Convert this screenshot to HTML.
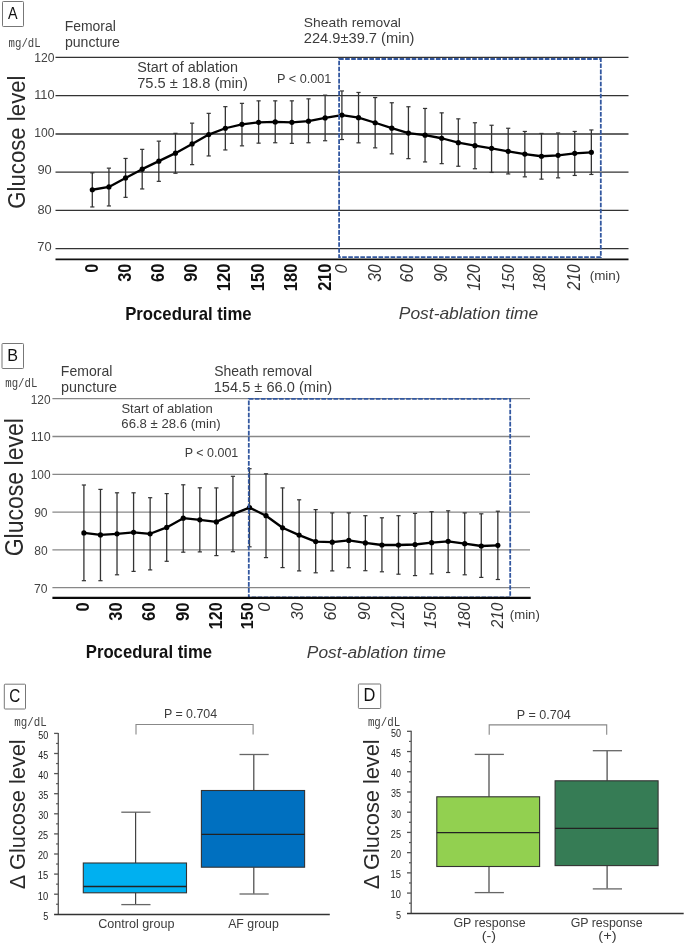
<!DOCTYPE html>
<html><head><meta charset="utf-8"><style>
html,body{margin:0;padding:0;background:#fff;}
svg{display:block;font-family:"Liberation Sans",sans-serif;will-change:transform;}
</style></head><body>
<svg width="685" height="945" viewBox="0 0 685 945">
<rect width="685" height="945" fill="#fff"/>
<rect x="2.5" y="1.5" width="21" height="25" fill="none" stroke="#777" stroke-width="1" rx="0.8"/>
<text x="7.96" y="18.8" font-size="17.16" font-weight="normal" font-style="normal" fill="#111" textLength="9.56" lengthAdjust="spacingAndGlyphs">A</text>
<text x="8.59" y="47" font-size="12.3" font-family="Liberation Mono" font-weight="normal" font-style="normal" fill="#444" textLength="32.08" lengthAdjust="spacingAndGlyphs">mg/dL</text>
<text x="64.65" y="30.9" font-size="14.3" font-weight="normal" font-style="normal" fill="#3c3c3c" textLength="51.19" lengthAdjust="spacingAndGlyphs">Femoral</text>
<text x="64.88" y="46.6" font-size="14.3" font-weight="normal" font-style="normal" fill="#3c3c3c" textLength="54.94" lengthAdjust="spacingAndGlyphs">puncture</text>
<text x="303.88" y="26.5" font-size="13.6" font-weight="normal" font-style="normal" fill="#3c3c3c" textLength="97.05" lengthAdjust="spacingAndGlyphs">Sheath removal</text>
<text x="303.77" y="42.8" font-size="13.8" font-weight="normal" font-style="normal" fill="#3c3c3c" textLength="110.72" lengthAdjust="spacingAndGlyphs">224.9±39.7 (min)</text>
<text x="137.25" y="71.6" font-size="14" font-weight="normal" font-style="normal" fill="#3c3c3c" textLength="100.88" lengthAdjust="spacingAndGlyphs">Start of ablation</text>
<text x="137.17" y="87.9" font-size="14.2" font-weight="normal" font-style="normal" fill="#3c3c3c" textLength="110.71" lengthAdjust="spacingAndGlyphs">75.5 ± 18.8 (min)</text>
<text x="276.95" y="82.6" font-size="12.33" font-weight="normal" font-style="normal" fill="#3c3c3c" textLength="54.46" lengthAdjust="spacingAndGlyphs">P &lt; 0.001</text>
<line x1="55.5" y1="57.4" x2="628.5" y2="57.4" stroke="#333" stroke-width="1.3"/>
<line x1="55.5" y1="95.7" x2="628.5" y2="95.7" stroke="#333" stroke-width="1.3"/>
<line x1="55.5" y1="134" x2="628.5" y2="134" stroke="#333" stroke-width="1.3"/>
<line x1="55.5" y1="172.2" x2="628.5" y2="172.2" stroke="#333" stroke-width="1.3"/>
<line x1="55.5" y1="210.4" x2="628.5" y2="210.4" stroke="#333" stroke-width="1.3"/>
<line x1="55.5" y1="248.6" x2="628.5" y2="248.6" stroke="#333" stroke-width="1.3"/>
<text x="34.24" y="61.8" font-size="13.2" font-weight="normal" font-style="normal" fill="#444" textLength="20.28" lengthAdjust="spacingAndGlyphs">120</text>
<text x="34.19" y="99" font-size="13.2" font-weight="normal" font-style="normal" fill="#444" textLength="20.36" lengthAdjust="spacingAndGlyphs">110</text>
<text x="34.24" y="137" font-size="13.2" font-weight="normal" font-style="normal" fill="#444" textLength="20.28" lengthAdjust="spacingAndGlyphs">100</text>
<text x="37.39" y="174.1" font-size="13.2" font-weight="normal" font-style="normal" fill="#444" textLength="14.32" lengthAdjust="spacingAndGlyphs">90</text>
<text x="37.46" y="213.9" font-size="13.2" font-weight="normal" font-style="normal" fill="#444" textLength="14.26" lengthAdjust="spacingAndGlyphs">80</text>
<text x="37.35" y="250.7" font-size="13.2" font-weight="normal" font-style="normal" fill="#444" textLength="14.36" lengthAdjust="spacingAndGlyphs">70</text>
<line x1="92.3" y1="172.85" x2="92.3" y2="206.95" stroke="#333" stroke-width="1.3"/>
<line x1="90.2" y1="172.85" x2="94.4" y2="172.85" stroke="#333" stroke-width="1.2"/>
<line x1="90.2" y1="206.95" x2="94.4" y2="206.95" stroke="#333" stroke-width="1.2"/>
<line x1="108.93" y1="168.15" x2="108.93" y2="205.95" stroke="#333" stroke-width="1.3"/>
<line x1="106.83" y1="168.15" x2="111.03" y2="168.15" stroke="#333" stroke-width="1.2"/>
<line x1="106.83" y1="205.95" x2="111.03" y2="205.95" stroke="#333" stroke-width="1.2"/>
<line x1="125.56" y1="158.45" x2="125.56" y2="197.35" stroke="#333" stroke-width="1.3"/>
<line x1="123.46" y1="158.45" x2="127.66" y2="158.45" stroke="#333" stroke-width="1.2"/>
<line x1="123.46" y1="197.35" x2="127.66" y2="197.35" stroke="#333" stroke-width="1.2"/>
<line x1="142.19" y1="149.35" x2="142.19" y2="188.95" stroke="#333" stroke-width="1.3"/>
<line x1="140.09" y1="149.35" x2="144.29" y2="149.35" stroke="#333" stroke-width="1.2"/>
<line x1="140.09" y1="188.95" x2="144.29" y2="188.95" stroke="#333" stroke-width="1.2"/>
<line x1="158.82" y1="141.15" x2="158.82" y2="181.35" stroke="#333" stroke-width="1.3"/>
<line x1="156.72" y1="141.15" x2="160.92" y2="141.15" stroke="#333" stroke-width="1.2"/>
<line x1="156.72" y1="181.35" x2="160.92" y2="181.35" stroke="#333" stroke-width="1.2"/>
<line x1="175.45" y1="133.35" x2="175.45" y2="173.25" stroke="#333" stroke-width="1.3"/>
<line x1="173.35" y1="133.35" x2="177.55" y2="133.35" stroke="#333" stroke-width="1.2"/>
<line x1="173.35" y1="173.25" x2="177.55" y2="173.25" stroke="#333" stroke-width="1.2"/>
<line x1="192.08" y1="123.15" x2="192.08" y2="164.65" stroke="#333" stroke-width="1.3"/>
<line x1="189.98" y1="123.15" x2="194.18" y2="123.15" stroke="#333" stroke-width="1.2"/>
<line x1="189.98" y1="164.65" x2="194.18" y2="164.65" stroke="#333" stroke-width="1.2"/>
<line x1="208.71" y1="113.35" x2="208.71" y2="155.95" stroke="#333" stroke-width="1.3"/>
<line x1="206.61" y1="113.35" x2="210.81" y2="113.35" stroke="#333" stroke-width="1.2"/>
<line x1="206.61" y1="155.95" x2="210.81" y2="155.95" stroke="#333" stroke-width="1.2"/>
<line x1="225.34" y1="106.65" x2="225.34" y2="149.95" stroke="#333" stroke-width="1.3"/>
<line x1="223.24" y1="106.65" x2="227.44" y2="106.65" stroke="#333" stroke-width="1.2"/>
<line x1="223.24" y1="149.95" x2="227.44" y2="149.95" stroke="#333" stroke-width="1.2"/>
<line x1="241.97" y1="103.35" x2="241.97" y2="145.85" stroke="#333" stroke-width="1.3"/>
<line x1="239.87" y1="103.35" x2="244.07" y2="103.35" stroke="#333" stroke-width="1.2"/>
<line x1="239.87" y1="145.85" x2="244.07" y2="145.85" stroke="#333" stroke-width="1.2"/>
<line x1="258.6" y1="100.85" x2="258.6" y2="143.15" stroke="#333" stroke-width="1.3"/>
<line x1="256.5" y1="100.85" x2="260.7" y2="100.85" stroke="#333" stroke-width="1.2"/>
<line x1="256.5" y1="143.15" x2="260.7" y2="143.15" stroke="#333" stroke-width="1.2"/>
<line x1="275.23" y1="100.85" x2="275.23" y2="142.75" stroke="#333" stroke-width="1.3"/>
<line x1="273.13" y1="100.85" x2="277.33" y2="100.85" stroke="#333" stroke-width="1.2"/>
<line x1="273.13" y1="142.75" x2="277.33" y2="142.75" stroke="#333" stroke-width="1.2"/>
<line x1="291.86" y1="100.85" x2="291.86" y2="143.35" stroke="#333" stroke-width="1.3"/>
<line x1="289.76" y1="100.85" x2="293.96" y2="100.85" stroke="#333" stroke-width="1.2"/>
<line x1="289.76" y1="143.35" x2="293.96" y2="143.35" stroke="#333" stroke-width="1.2"/>
<line x1="308.49" y1="98.85" x2="308.49" y2="142.75" stroke="#333" stroke-width="1.3"/>
<line x1="306.39" y1="98.85" x2="310.59" y2="98.85" stroke="#333" stroke-width="1.2"/>
<line x1="306.39" y1="142.75" x2="310.59" y2="142.75" stroke="#333" stroke-width="1.2"/>
<line x1="325.12" y1="95.15" x2="325.12" y2="140.75" stroke="#333" stroke-width="1.3"/>
<line x1="323.02" y1="95.15" x2="327.22" y2="95.15" stroke="#333" stroke-width="1.2"/>
<line x1="323.02" y1="140.75" x2="327.22" y2="140.75" stroke="#333" stroke-width="1.2"/>
<line x1="341.9" y1="90.95" x2="341.9" y2="139.55" stroke="#333" stroke-width="1.3"/>
<line x1="339.8" y1="90.95" x2="344" y2="90.95" stroke="#333" stroke-width="1.2"/>
<line x1="339.8" y1="139.55" x2="344" y2="139.55" stroke="#333" stroke-width="1.2"/>
<line x1="358.53" y1="92.45" x2="358.53" y2="142.85" stroke="#333" stroke-width="1.3"/>
<line x1="356.43" y1="92.45" x2="360.63" y2="92.45" stroke="#333" stroke-width="1.2"/>
<line x1="356.43" y1="142.85" x2="360.63" y2="142.85" stroke="#333" stroke-width="1.2"/>
<line x1="375.16" y1="97.55" x2="375.16" y2="147.85" stroke="#333" stroke-width="1.3"/>
<line x1="373.06" y1="97.55" x2="377.26" y2="97.55" stroke="#333" stroke-width="1.2"/>
<line x1="373.06" y1="147.85" x2="377.26" y2="147.85" stroke="#333" stroke-width="1.2"/>
<line x1="391.79" y1="102.75" x2="391.79" y2="153.85" stroke="#333" stroke-width="1.3"/>
<line x1="389.69" y1="102.75" x2="393.89" y2="102.75" stroke="#333" stroke-width="1.2"/>
<line x1="389.69" y1="153.85" x2="393.89" y2="153.85" stroke="#333" stroke-width="1.2"/>
<line x1="408.42" y1="106.75" x2="408.42" y2="158.65" stroke="#333" stroke-width="1.3"/>
<line x1="406.32" y1="106.75" x2="410.52" y2="106.75" stroke="#333" stroke-width="1.2"/>
<line x1="406.32" y1="158.65" x2="410.52" y2="158.65" stroke="#333" stroke-width="1.2"/>
<line x1="425.05" y1="108.45" x2="425.05" y2="161.95" stroke="#333" stroke-width="1.3"/>
<line x1="422.95" y1="108.45" x2="427.15" y2="108.45" stroke="#333" stroke-width="1.2"/>
<line x1="422.95" y1="161.95" x2="427.15" y2="161.95" stroke="#333" stroke-width="1.2"/>
<line x1="441.68" y1="112.85" x2="441.68" y2="163.65" stroke="#333" stroke-width="1.3"/>
<line x1="439.58" y1="112.85" x2="443.78" y2="112.85" stroke="#333" stroke-width="1.2"/>
<line x1="439.58" y1="163.65" x2="443.78" y2="163.65" stroke="#333" stroke-width="1.2"/>
<line x1="458.31" y1="118.85" x2="458.31" y2="166.25" stroke="#333" stroke-width="1.3"/>
<line x1="456.21" y1="118.85" x2="460.41" y2="118.85" stroke="#333" stroke-width="1.2"/>
<line x1="456.21" y1="166.25" x2="460.41" y2="166.25" stroke="#333" stroke-width="1.2"/>
<line x1="474.94" y1="122.75" x2="474.94" y2="168.75" stroke="#333" stroke-width="1.3"/>
<line x1="472.84" y1="122.75" x2="477.04" y2="122.75" stroke="#333" stroke-width="1.2"/>
<line x1="472.84" y1="168.75" x2="477.04" y2="168.75" stroke="#333" stroke-width="1.2"/>
<line x1="491.57" y1="125.25" x2="491.57" y2="172.45" stroke="#333" stroke-width="1.3"/>
<line x1="489.47" y1="125.25" x2="493.67" y2="125.25" stroke="#333" stroke-width="1.2"/>
<line x1="489.47" y1="172.45" x2="493.67" y2="172.45" stroke="#333" stroke-width="1.2"/>
<line x1="508.2" y1="128.25" x2="508.2" y2="173.95" stroke="#333" stroke-width="1.3"/>
<line x1="506.1" y1="128.25" x2="510.3" y2="128.25" stroke="#333" stroke-width="1.2"/>
<line x1="506.1" y1="173.95" x2="510.3" y2="173.95" stroke="#333" stroke-width="1.2"/>
<line x1="524.83" y1="131.45" x2="524.83" y2="176.85" stroke="#333" stroke-width="1.3"/>
<line x1="522.73" y1="131.45" x2="526.93" y2="131.45" stroke="#333" stroke-width="1.2"/>
<line x1="522.73" y1="176.85" x2="526.93" y2="176.85" stroke="#333" stroke-width="1.2"/>
<line x1="541.46" y1="133.45" x2="541.46" y2="179.15" stroke="#333" stroke-width="1.3"/>
<line x1="539.36" y1="133.45" x2="543.56" y2="133.45" stroke="#333" stroke-width="1.2"/>
<line x1="539.36" y1="179.15" x2="543.56" y2="179.15" stroke="#333" stroke-width="1.2"/>
<line x1="558.09" y1="132.95" x2="558.09" y2="177.85" stroke="#333" stroke-width="1.3"/>
<line x1="555.99" y1="132.95" x2="560.19" y2="132.95" stroke="#333" stroke-width="1.2"/>
<line x1="555.99" y1="177.85" x2="560.19" y2="177.85" stroke="#333" stroke-width="1.2"/>
<line x1="574.72" y1="131.45" x2="574.72" y2="175.45" stroke="#333" stroke-width="1.3"/>
<line x1="572.62" y1="131.45" x2="576.82" y2="131.45" stroke="#333" stroke-width="1.2"/>
<line x1="572.62" y1="175.45" x2="576.82" y2="175.45" stroke="#333" stroke-width="1.2"/>
<line x1="591.35" y1="129.95" x2="591.35" y2="174.45" stroke="#333" stroke-width="1.3"/>
<line x1="589.25" y1="129.95" x2="593.45" y2="129.95" stroke="#333" stroke-width="1.2"/>
<line x1="589.25" y1="174.45" x2="593.45" y2="174.45" stroke="#333" stroke-width="1.2"/>
<path d="M92.3,189.75 L108.93,186.95 L125.56,177.95 L142.19,169.15 L158.82,161.15 L175.45,153.15 L192.08,143.95 L208.71,134.55 L225.34,128.25 L241.97,124.35 L258.6,122.35 L275.23,121.95 L291.86,122.35 L308.49,121.15 L325.12,117.95 L341.9,115.05 L358.53,117.65 L375.16,122.75 L391.79,128.15 L408.42,133.05 L425.05,135.15 L441.68,138.25 L458.31,142.65 L474.94,145.65 L491.57,148.35 L508.2,151.35 L524.83,154.05 L541.46,156.25 L558.09,155.35 L574.72,153.35 L591.35,152.35" fill="none" stroke="#000" stroke-width="2.3" stroke-linejoin="round"/>
<circle cx="92.3" cy="189.75" r="2.6" fill="#000"/>
<circle cx="108.93" cy="186.95" r="2.6" fill="#000"/>
<circle cx="125.56" cy="177.95" r="2.6" fill="#000"/>
<circle cx="142.19" cy="169.15" r="2.6" fill="#000"/>
<circle cx="158.82" cy="161.15" r="2.6" fill="#000"/>
<circle cx="175.45" cy="153.15" r="2.6" fill="#000"/>
<circle cx="192.08" cy="143.95" r="2.6" fill="#000"/>
<circle cx="208.71" cy="134.55" r="2.6" fill="#000"/>
<circle cx="225.34" cy="128.25" r="2.6" fill="#000"/>
<circle cx="241.97" cy="124.35" r="2.6" fill="#000"/>
<circle cx="258.6" cy="122.35" r="2.6" fill="#000"/>
<circle cx="275.23" cy="121.95" r="2.6" fill="#000"/>
<circle cx="291.86" cy="122.35" r="2.6" fill="#000"/>
<circle cx="308.49" cy="121.15" r="2.6" fill="#000"/>
<circle cx="325.12" cy="117.95" r="2.6" fill="#000"/>
<circle cx="341.9" cy="115.05" r="2.6" fill="#000"/>
<circle cx="358.53" cy="117.65" r="2.6" fill="#000"/>
<circle cx="375.16" cy="122.75" r="2.6" fill="#000"/>
<circle cx="391.79" cy="128.15" r="2.6" fill="#000"/>
<circle cx="408.42" cy="133.05" r="2.6" fill="#000"/>
<circle cx="425.05" cy="135.15" r="2.6" fill="#000"/>
<circle cx="441.68" cy="138.25" r="2.6" fill="#000"/>
<circle cx="458.31" cy="142.65" r="2.6" fill="#000"/>
<circle cx="474.94" cy="145.65" r="2.6" fill="#000"/>
<circle cx="491.57" cy="148.35" r="2.6" fill="#000"/>
<circle cx="508.2" cy="151.35" r="2.6" fill="#000"/>
<circle cx="524.83" cy="154.05" r="2.6" fill="#000"/>
<circle cx="541.46" cy="156.25" r="2.6" fill="#000"/>
<circle cx="558.09" cy="155.35" r="2.6" fill="#000"/>
<circle cx="574.72" cy="153.35" r="2.6" fill="#000"/>
<circle cx="591.35" cy="152.35" r="2.6" fill="#000"/>
<rect x="339.1" y="59" width="261.7" height="198.2" fill="none" stroke="#3358a0" stroke-width="1.8" stroke-dasharray="4.6 1.45"/>
<line x1="55.5" y1="259.3" x2="628.5" y2="259.3" stroke="#111" stroke-width="1.8"/>
<text transform="translate(97.5,272.65) rotate(-90)" font-size="17.78" font-weight="bold" font-style="normal" fill="#111" textLength="9.02" lengthAdjust="spacingAndGlyphs">0</text>
<text transform="translate(131.1,281.67) rotate(-90)" font-size="18.78" font-weight="bold" font-style="normal" fill="#111" textLength="18.05" lengthAdjust="spacingAndGlyphs">30</text>
<text transform="translate(164.4,281.92) rotate(-90)" font-size="18.49" font-weight="bold" font-style="normal" fill="#111" textLength="18.31" lengthAdjust="spacingAndGlyphs">60</text>
<text transform="translate(197.1,281.87) rotate(-90)" font-size="17.78" font-weight="bold" font-style="normal" fill="#111" textLength="18.27" lengthAdjust="spacingAndGlyphs">90</text>
<text transform="translate(230.4,291.34) rotate(-90)" font-size="17.63" font-weight="bold" font-style="normal" fill="#111" textLength="27.72" lengthAdjust="spacingAndGlyphs">120</text>
<text transform="translate(264.1,291.34) rotate(-90)" font-size="18.06" font-weight="bold" font-style="normal" fill="#111" textLength="27.72" lengthAdjust="spacingAndGlyphs">150</text>
<text transform="translate(297.4,291.34) rotate(-90)" font-size="17.63" font-weight="bold" font-style="normal" fill="#111" textLength="27.72" lengthAdjust="spacingAndGlyphs">180</text>
<text transform="translate(331.1,290.87) rotate(-90)" font-size="18.06" font-weight="bold" font-style="normal" fill="#111" textLength="27.24" lengthAdjust="spacingAndGlyphs">210</text>
<text transform="translate(346.6,273.5) rotate(-90)" font-size="16.92" font-weight="normal" font-style="italic" fill="#333" textLength="9.14" lengthAdjust="spacingAndGlyphs">0</text>
<text transform="translate(380.9,281.85) rotate(-90)" font-size="17.78" font-weight="normal" font-style="italic" fill="#333" textLength="17.51" lengthAdjust="spacingAndGlyphs">30</text>
<text transform="translate(413.1,282.39) rotate(-90)" font-size="17.78" font-weight="normal" font-style="italic" fill="#333" textLength="18.05" lengthAdjust="spacingAndGlyphs">60</text>
<text transform="translate(446.7,282.06) rotate(-90)" font-size="17.92" font-weight="normal" font-style="italic" fill="#333" textLength="17.71" lengthAdjust="spacingAndGlyphs">90</text>
<text transform="translate(480.2,290.69) rotate(-90)" font-size="17.92" font-weight="normal" font-style="italic" fill="#333" textLength="26.33" lengthAdjust="spacingAndGlyphs">120</text>
<text transform="translate(513.9,290.69) rotate(-90)" font-size="16.77" font-weight="normal" font-style="italic" fill="#333" textLength="26.33" lengthAdjust="spacingAndGlyphs">150</text>
<text transform="translate(545.4,290.69) rotate(-90)" font-size="16.06" font-weight="normal" font-style="italic" fill="#333" textLength="26.33" lengthAdjust="spacingAndGlyphs">180</text>
<text transform="translate(580.4,290.22) rotate(-90)" font-size="18.35" font-weight="normal" font-style="italic" fill="#333" textLength="25.85" lengthAdjust="spacingAndGlyphs">210</text>
<text x="589.66" y="279.5" font-size="12.5" font-weight="normal" font-style="normal" fill="#3c3c3c" textLength="30.65" lengthAdjust="spacingAndGlyphs">(min)</text>
<text x="125.17" y="320" font-size="18.21" font-weight="bold" font-style="normal" fill="#111" textLength="126.49" lengthAdjust="spacingAndGlyphs">Procedural time</text>
<text x="398.78" y="319.1" font-size="16.55" font-weight="normal" font-style="italic" fill="#3c3c3c" textLength="139.46" lengthAdjust="spacingAndGlyphs">Post-ablation time</text>
<text transform="translate(25.3,208.71) rotate(-90)" font-size="23.17" font-weight="normal" font-style="normal" fill="#2a2a2a" textLength="133.22" lengthAdjust="spacingAndGlyphs">Glucose level</text>
<rect x="2" y="343.5" width="21.5" height="25" fill="none" stroke="#777" stroke-width="1" rx="0.8"/>
<text x="7.17" y="360.8" font-size="17.16" font-weight="normal" font-style="normal" fill="#111" textLength="10.77" lengthAdjust="spacingAndGlyphs">B</text>
<text x="5.29" y="386.6" font-size="12.3" font-family="Liberation Mono" font-weight="normal" font-style="normal" fill="#444" textLength="32.08" lengthAdjust="spacingAndGlyphs">mg/dL</text>
<text x="60.84" y="375.9" font-size="14.3" font-weight="normal" font-style="normal" fill="#3c3c3c" textLength="51.51" lengthAdjust="spacingAndGlyphs">Femoral</text>
<text x="61.07" y="392.1" font-size="14.3" font-weight="normal" font-style="normal" fill="#3c3c3c" textLength="55.87" lengthAdjust="spacingAndGlyphs">puncture</text>
<text x="214.17" y="375.9" font-size="14.2" font-weight="normal" font-style="normal" fill="#3c3c3c" textLength="98.06" lengthAdjust="spacingAndGlyphs">Sheath removal</text>
<text x="213.7" y="392" font-size="14.2" font-weight="normal" font-style="normal" fill="#3c3c3c" textLength="118.49" lengthAdjust="spacingAndGlyphs">154.5 ± 66.0 (min)</text>
<text x="121.41" y="412.9" font-size="13" font-weight="normal" font-style="normal" fill="#3c3c3c" textLength="91.23" lengthAdjust="spacingAndGlyphs">Start of ablation</text>
<text x="121.34" y="427.8" font-size="13.2" font-weight="normal" font-style="normal" fill="#3c3c3c" textLength="99.35" lengthAdjust="spacingAndGlyphs">66.8 ± 28.6 (min)</text>
<text x="184.77" y="457.1" font-size="12.8" font-weight="normal" font-style="normal" fill="#3c3c3c" textLength="53.54" lengthAdjust="spacingAndGlyphs">P &lt; 0.001</text>
<line x1="52.4" y1="398.7" x2="530" y2="398.7" stroke="#888" stroke-width="1.3"/>
<line x1="52.4" y1="436.5" x2="530" y2="436.5" stroke="#888" stroke-width="1.3"/>
<line x1="52.4" y1="474.3" x2="530" y2="474.3" stroke="#888" stroke-width="1.3"/>
<line x1="52.4" y1="512.1" x2="530" y2="512.1" stroke="#888" stroke-width="1.3"/>
<line x1="52.4" y1="549.9" x2="530" y2="549.9" stroke="#888" stroke-width="1.3"/>
<line x1="52.4" y1="587.7" x2="530" y2="587.7" stroke="#888" stroke-width="1.3"/>
<text x="30.76" y="403.6" font-size="13" font-weight="normal" font-style="normal" fill="#444" textLength="19.85" lengthAdjust="spacingAndGlyphs">120</text>
<text x="30.71" y="441.4" font-size="13" font-weight="normal" font-style="normal" fill="#444" textLength="19.93" lengthAdjust="spacingAndGlyphs">110</text>
<text x="30.76" y="479.2" font-size="13" font-weight="normal" font-style="normal" fill="#444" textLength="19.85" lengthAdjust="spacingAndGlyphs">100</text>
<text x="34.13" y="517" font-size="13" font-weight="normal" font-style="normal" fill="#444" textLength="13.46" lengthAdjust="spacingAndGlyphs">90</text>
<text x="34.19" y="554.8" font-size="13" font-weight="normal" font-style="normal" fill="#444" textLength="13.39" lengthAdjust="spacingAndGlyphs">80</text>
<text x="34.09" y="592.6" font-size="13" font-weight="normal" font-style="normal" fill="#444" textLength="13.49" lengthAdjust="spacingAndGlyphs">70</text>
<line x1="83.9" y1="485" x2="83.9" y2="580.7" stroke="#333" stroke-width="1.3"/>
<line x1="81.8" y1="485" x2="86" y2="485" stroke="#333" stroke-width="1.2"/>
<line x1="81.8" y1="580.7" x2="86" y2="580.7" stroke="#333" stroke-width="1.2"/>
<line x1="100.46" y1="489.4" x2="100.46" y2="580.7" stroke="#333" stroke-width="1.3"/>
<line x1="98.36" y1="489.4" x2="102.56" y2="489.4" stroke="#333" stroke-width="1.2"/>
<line x1="98.36" y1="580.7" x2="102.56" y2="580.7" stroke="#333" stroke-width="1.2"/>
<line x1="117.02" y1="492.8" x2="117.02" y2="574.8" stroke="#333" stroke-width="1.3"/>
<line x1="114.92" y1="492.8" x2="119.12" y2="492.8" stroke="#333" stroke-width="1.2"/>
<line x1="114.92" y1="574.8" x2="119.12" y2="574.8" stroke="#333" stroke-width="1.2"/>
<line x1="133.58" y1="492.8" x2="133.58" y2="571.4" stroke="#333" stroke-width="1.3"/>
<line x1="131.48" y1="492.8" x2="135.68" y2="492.8" stroke="#333" stroke-width="1.2"/>
<line x1="131.48" y1="571.4" x2="135.68" y2="571.4" stroke="#333" stroke-width="1.2"/>
<line x1="150.14" y1="497.7" x2="150.14" y2="569.9" stroke="#333" stroke-width="1.3"/>
<line x1="148.04" y1="497.7" x2="152.24" y2="497.7" stroke="#333" stroke-width="1.2"/>
<line x1="148.04" y1="569.9" x2="152.24" y2="569.9" stroke="#333" stroke-width="1.2"/>
<line x1="166.7" y1="493.6" x2="166.7" y2="561.3" stroke="#333" stroke-width="1.3"/>
<line x1="164.6" y1="493.6" x2="168.8" y2="493.6" stroke="#333" stroke-width="1.2"/>
<line x1="164.6" y1="561.3" x2="168.8" y2="561.3" stroke="#333" stroke-width="1.2"/>
<line x1="183.26" y1="484.8" x2="183.26" y2="552.2" stroke="#333" stroke-width="1.3"/>
<line x1="181.16" y1="484.8" x2="185.36" y2="484.8" stroke="#333" stroke-width="1.2"/>
<line x1="181.16" y1="552.2" x2="185.36" y2="552.2" stroke="#333" stroke-width="1.2"/>
<line x1="199.82" y1="487.8" x2="199.82" y2="551.9" stroke="#333" stroke-width="1.3"/>
<line x1="197.72" y1="487.8" x2="201.92" y2="487.8" stroke="#333" stroke-width="1.2"/>
<line x1="197.72" y1="551.9" x2="201.92" y2="551.9" stroke="#333" stroke-width="1.2"/>
<line x1="216.38" y1="487.9" x2="216.38" y2="555.6" stroke="#333" stroke-width="1.3"/>
<line x1="214.28" y1="487.9" x2="218.48" y2="487.9" stroke="#333" stroke-width="1.2"/>
<line x1="214.28" y1="555.6" x2="218.48" y2="555.6" stroke="#333" stroke-width="1.2"/>
<line x1="232.94" y1="476.3" x2="232.94" y2="551.7" stroke="#333" stroke-width="1.3"/>
<line x1="230.84" y1="476.3" x2="235.04" y2="476.3" stroke="#333" stroke-width="1.2"/>
<line x1="230.84" y1="551.7" x2="235.04" y2="551.7" stroke="#333" stroke-width="1.2"/>
<line x1="249.5" y1="468.7" x2="249.5" y2="546.8" stroke="#333" stroke-width="1.3"/>
<line x1="247.4" y1="468.7" x2="251.6" y2="468.7" stroke="#333" stroke-width="1.2"/>
<line x1="247.4" y1="546.8" x2="251.6" y2="546.8" stroke="#333" stroke-width="1.2"/>
<line x1="266" y1="473.8" x2="266" y2="557.6" stroke="#333" stroke-width="1.3"/>
<line x1="263.9" y1="473.8" x2="268.1" y2="473.8" stroke="#333" stroke-width="1.2"/>
<line x1="263.9" y1="557.6" x2="268.1" y2="557.6" stroke="#333" stroke-width="1.2"/>
<line x1="282.56" y1="487.9" x2="282.56" y2="567.6" stroke="#333" stroke-width="1.3"/>
<line x1="280.46" y1="487.9" x2="284.66" y2="487.9" stroke="#333" stroke-width="1.2"/>
<line x1="280.46" y1="567.6" x2="284.66" y2="567.6" stroke="#333" stroke-width="1.2"/>
<line x1="299.12" y1="499.8" x2="299.12" y2="570.9" stroke="#333" stroke-width="1.3"/>
<line x1="297.02" y1="499.8" x2="301.22" y2="499.8" stroke="#333" stroke-width="1.2"/>
<line x1="297.02" y1="570.9" x2="301.22" y2="570.9" stroke="#333" stroke-width="1.2"/>
<line x1="315.68" y1="509.6" x2="315.68" y2="572.8" stroke="#333" stroke-width="1.3"/>
<line x1="313.58" y1="509.6" x2="317.78" y2="509.6" stroke="#333" stroke-width="1.2"/>
<line x1="313.58" y1="572.8" x2="317.78" y2="572.8" stroke="#333" stroke-width="1.2"/>
<line x1="332.24" y1="512.9" x2="332.24" y2="570.9" stroke="#333" stroke-width="1.3"/>
<line x1="330.14" y1="512.9" x2="334.34" y2="512.9" stroke="#333" stroke-width="1.2"/>
<line x1="330.14" y1="570.9" x2="334.34" y2="570.9" stroke="#333" stroke-width="1.2"/>
<line x1="348.8" y1="512.9" x2="348.8" y2="567.7" stroke="#333" stroke-width="1.3"/>
<line x1="346.7" y1="512.9" x2="350.9" y2="512.9" stroke="#333" stroke-width="1.2"/>
<line x1="346.7" y1="567.7" x2="350.9" y2="567.7" stroke="#333" stroke-width="1.2"/>
<line x1="365.36" y1="515.7" x2="365.36" y2="570.7" stroke="#333" stroke-width="1.3"/>
<line x1="363.26" y1="515.7" x2="367.46" y2="515.7" stroke="#333" stroke-width="1.2"/>
<line x1="363.26" y1="570.7" x2="367.46" y2="570.7" stroke="#333" stroke-width="1.2"/>
<line x1="381.92" y1="517.8" x2="381.92" y2="571.8" stroke="#333" stroke-width="1.3"/>
<line x1="379.82" y1="517.8" x2="384.02" y2="517.8" stroke="#333" stroke-width="1.2"/>
<line x1="379.82" y1="571.8" x2="384.02" y2="571.8" stroke="#333" stroke-width="1.2"/>
<line x1="398.48" y1="515.7" x2="398.48" y2="574.2" stroke="#333" stroke-width="1.3"/>
<line x1="396.38" y1="515.7" x2="400.58" y2="515.7" stroke="#333" stroke-width="1.2"/>
<line x1="396.38" y1="574.2" x2="400.58" y2="574.2" stroke="#333" stroke-width="1.2"/>
<line x1="415.04" y1="513.4" x2="415.04" y2="575.6" stroke="#333" stroke-width="1.3"/>
<line x1="412.94" y1="513.4" x2="417.14" y2="513.4" stroke="#333" stroke-width="1.2"/>
<line x1="412.94" y1="575.6" x2="417.14" y2="575.6" stroke="#333" stroke-width="1.2"/>
<line x1="431.6" y1="511.7" x2="431.6" y2="573.9" stroke="#333" stroke-width="1.3"/>
<line x1="429.5" y1="511.7" x2="433.7" y2="511.7" stroke="#333" stroke-width="1.2"/>
<line x1="429.5" y1="573.9" x2="433.7" y2="573.9" stroke="#333" stroke-width="1.2"/>
<line x1="448.16" y1="510.8" x2="448.16" y2="572.5" stroke="#333" stroke-width="1.3"/>
<line x1="446.06" y1="510.8" x2="450.26" y2="510.8" stroke="#333" stroke-width="1.2"/>
<line x1="446.06" y1="572.5" x2="450.26" y2="572.5" stroke="#333" stroke-width="1.2"/>
<line x1="464.72" y1="512.9" x2="464.72" y2="574.8" stroke="#333" stroke-width="1.3"/>
<line x1="462.62" y1="512.9" x2="466.82" y2="512.9" stroke="#333" stroke-width="1.2"/>
<line x1="462.62" y1="574.8" x2="466.82" y2="574.8" stroke="#333" stroke-width="1.2"/>
<line x1="481.28" y1="513.8" x2="481.28" y2="577.4" stroke="#333" stroke-width="1.3"/>
<line x1="479.18" y1="513.8" x2="483.38" y2="513.8" stroke="#333" stroke-width="1.2"/>
<line x1="479.18" y1="577.4" x2="483.38" y2="577.4" stroke="#333" stroke-width="1.2"/>
<line x1="497.84" y1="511.2" x2="497.84" y2="579.5" stroke="#333" stroke-width="1.3"/>
<line x1="495.74" y1="511.2" x2="499.94" y2="511.2" stroke="#333" stroke-width="1.2"/>
<line x1="495.74" y1="579.5" x2="499.94" y2="579.5" stroke="#333" stroke-width="1.2"/>
<path d="M83.9,532.9 L100.46,534.9 L117.02,533.8 L133.58,532.3 L150.14,533.8 L166.7,527.4 L183.26,518.2 L199.82,519.8 L216.38,521.9 L232.94,514.1 L249.5,507.6 L266,515.7 L282.56,527.8 L299.12,535.1 L315.68,541.6 L332.24,542.2 L348.8,540.4 L365.36,542.9 L381.92,545 L398.48,545 L415.04,544.5 L431.6,542.7 L448.16,541.3 L464.72,543.7 L481.28,546 L497.84,545.3" fill="none" stroke="#000" stroke-width="2.3" stroke-linejoin="round"/>
<circle cx="83.9" cy="532.9" r="2.6" fill="#000"/>
<circle cx="100.46" cy="534.9" r="2.6" fill="#000"/>
<circle cx="117.02" cy="533.8" r="2.6" fill="#000"/>
<circle cx="133.58" cy="532.3" r="2.6" fill="#000"/>
<circle cx="150.14" cy="533.8" r="2.6" fill="#000"/>
<circle cx="166.7" cy="527.4" r="2.6" fill="#000"/>
<circle cx="183.26" cy="518.2" r="2.6" fill="#000"/>
<circle cx="199.82" cy="519.8" r="2.6" fill="#000"/>
<circle cx="216.38" cy="521.9" r="2.6" fill="#000"/>
<circle cx="232.94" cy="514.1" r="2.6" fill="#000"/>
<circle cx="249.5" cy="507.6" r="2.6" fill="#000"/>
<circle cx="266" cy="515.7" r="2.6" fill="#000"/>
<circle cx="282.56" cy="527.8" r="2.6" fill="#000"/>
<circle cx="299.12" cy="535.1" r="2.6" fill="#000"/>
<circle cx="315.68" cy="541.6" r="2.6" fill="#000"/>
<circle cx="332.24" cy="542.2" r="2.6" fill="#000"/>
<circle cx="348.8" cy="540.4" r="2.6" fill="#000"/>
<circle cx="365.36" cy="542.9" r="2.6" fill="#000"/>
<circle cx="381.92" cy="545" r="2.6" fill="#000"/>
<circle cx="398.48" cy="545" r="2.6" fill="#000"/>
<circle cx="415.04" cy="544.5" r="2.6" fill="#000"/>
<circle cx="431.6" cy="542.7" r="2.6" fill="#000"/>
<circle cx="448.16" cy="541.3" r="2.6" fill="#000"/>
<circle cx="464.72" cy="543.7" r="2.6" fill="#000"/>
<circle cx="481.28" cy="546" r="2.6" fill="#000"/>
<circle cx="497.84" cy="545.3" r="2.6" fill="#000"/>
<rect x="248.8" y="398.9" width="261.4" height="198.5" fill="none" stroke="#3358a0" stroke-width="1.8" stroke-dasharray="4.6 1.45"/>
<line x1="52.4" y1="597.8" x2="530.7" y2="597.8" stroke="#0a0a0a" stroke-width="2.3"/>
<text transform="translate(89,611.56) rotate(-90)" font-size="17.78" font-weight="bold" font-style="normal" fill="#111" textLength="9.13" lengthAdjust="spacingAndGlyphs">0</text>
<text transform="translate(122.3,620.77) rotate(-90)" font-size="17.49" font-weight="bold" font-style="normal" fill="#111" textLength="18.37" lengthAdjust="spacingAndGlyphs">30</text>
<text transform="translate(155.4,621.03) rotate(-90)" font-size="17.78" font-weight="bold" font-style="normal" fill="#111" textLength="18.64" lengthAdjust="spacingAndGlyphs">60</text>
<text transform="translate(188.6,620.99) rotate(-90)" font-size="18.35" font-weight="bold" font-style="normal" fill="#111" textLength="18.59" lengthAdjust="spacingAndGlyphs">90</text>
<text transform="translate(222.2,629.2) rotate(-90)" font-size="17.63" font-weight="bold" font-style="normal" fill="#111" textLength="26.76" lengthAdjust="spacingAndGlyphs">120</text>
<text transform="translate(252.9,629.2) rotate(-90)" font-size="16.34" font-weight="bold" font-style="normal" fill="#111" textLength="26.76" lengthAdjust="spacingAndGlyphs">150</text>
<text transform="translate(270.3,611.81) rotate(-90)" font-size="17.2" font-weight="normal" font-style="italic" fill="#333" textLength="9.25" lengthAdjust="spacingAndGlyphs">0</text>
<text transform="translate(302.7,619.95) rotate(-90)" font-size="16.63" font-weight="normal" font-style="italic" fill="#333" textLength="17.41" lengthAdjust="spacingAndGlyphs">30</text>
<text transform="translate(336,620.49) rotate(-90)" font-size="17.2" font-weight="normal" font-style="italic" fill="#333" textLength="17.95" lengthAdjust="spacingAndGlyphs">60</text>
<text transform="translate(370,620.15) rotate(-90)" font-size="17.35" font-weight="normal" font-style="italic" fill="#333" textLength="17.61" lengthAdjust="spacingAndGlyphs">90</text>
<text transform="translate(403.9,628.69) rotate(-90)" font-size="18.78" font-weight="normal" font-style="italic" fill="#333" textLength="26.12" lengthAdjust="spacingAndGlyphs">120</text>
<text transform="translate(436.1,628.69) rotate(-90)" font-size="17.2" font-weight="normal" font-style="italic" fill="#333" textLength="26.12" lengthAdjust="spacingAndGlyphs">150</text>
<text transform="translate(469.6,628.69) rotate(-90)" font-size="16.63" font-weight="normal" font-style="italic" fill="#333" textLength="26.12" lengthAdjust="spacingAndGlyphs">180</text>
<text transform="translate(502.9,628.22) rotate(-90)" font-size="17.2" font-weight="normal" font-style="italic" fill="#333" textLength="25.65" lengthAdjust="spacingAndGlyphs">210</text>
<text x="509.78" y="619.4" font-size="12.5" font-weight="normal" font-style="normal" fill="#3c3c3c" textLength="30.01" lengthAdjust="spacingAndGlyphs">(min)</text>
<text x="85.77" y="658.1" font-size="17.52" font-weight="bold" font-style="normal" fill="#111" textLength="126.29" lengthAdjust="spacingAndGlyphs">Procedural time</text>
<text x="306.88" y="657.8" font-size="16.69" font-weight="normal" font-style="italic" fill="#3c3c3c" textLength="138.96" lengthAdjust="spacingAndGlyphs">Post-ablation time</text>
<text transform="translate(22.5,556.35) rotate(-90)" font-size="24.97" font-weight="normal" font-style="normal" fill="#2a2a2a" textLength="138.22" lengthAdjust="spacingAndGlyphs">Glucose level</text>
<rect x="4.3" y="684.2" width="21.2" height="24.8" fill="none" stroke="#777" stroke-width="1" rx="0.8"/>
<text x="9.14" y="701.8" font-size="17.92" font-weight="normal" font-style="normal" fill="#111" textLength="11.03" lengthAdjust="spacingAndGlyphs">C</text>
<text x="14.29" y="725.6" font-size="12.3" font-family="Liberation Mono" font-weight="normal" font-style="normal" fill="#444" textLength="32.39" lengthAdjust="spacingAndGlyphs">mg/dL</text>
<line x1="58.3" y1="732.9" x2="58.3" y2="914.3" stroke="#555" stroke-width="1.3"/>
<line x1="54.1" y1="914.5" x2="329.8" y2="914.5" stroke="#333" stroke-width="1.6"/>
<line x1="56.1" y1="904.25" x2="58.3" y2="904.25" stroke="#555" stroke-width="1.2"/>
<text x="43.14" y="919.6" font-size="10" font-weight="normal" font-style="normal" fill="#222" textLength="5.03" lengthAdjust="spacingAndGlyphs">5</text>
<line x1="54.1" y1="894.2" x2="58.3" y2="894.2" stroke="#555" stroke-width="1.3"/>
<line x1="56.1" y1="884.15" x2="58.3" y2="884.15" stroke="#555" stroke-width="1.2"/>
<text x="37.8" y="899.5" font-size="10" font-weight="normal" font-style="normal" fill="#222" textLength="10.37" lengthAdjust="spacingAndGlyphs">10</text>
<line x1="54.1" y1="874.1" x2="58.3" y2="874.1" stroke="#555" stroke-width="1.3"/>
<line x1="56.1" y1="864.05" x2="58.3" y2="864.05" stroke="#555" stroke-width="1.2"/>
<text x="37.8" y="879.4" font-size="10" font-weight="normal" font-style="normal" fill="#222" textLength="10.4" lengthAdjust="spacingAndGlyphs">15</text>
<line x1="54.1" y1="854" x2="58.3" y2="854" stroke="#555" stroke-width="1.3"/>
<line x1="56.1" y1="843.95" x2="58.3" y2="843.95" stroke="#555" stroke-width="1.2"/>
<text x="38.05" y="859.3" font-size="10" font-weight="normal" font-style="normal" fill="#222" textLength="10.12" lengthAdjust="spacingAndGlyphs">20</text>
<line x1="54.1" y1="833.9" x2="58.3" y2="833.9" stroke="#555" stroke-width="1.3"/>
<line x1="56.1" y1="823.85" x2="58.3" y2="823.85" stroke="#555" stroke-width="1.2"/>
<text x="38.04" y="839.2" font-size="10" font-weight="normal" font-style="normal" fill="#222" textLength="10.14" lengthAdjust="spacingAndGlyphs">25</text>
<line x1="54.1" y1="813.8" x2="58.3" y2="813.8" stroke="#555" stroke-width="1.3"/>
<line x1="56.1" y1="803.75" x2="58.3" y2="803.75" stroke="#555" stroke-width="1.2"/>
<text x="38.16" y="819.1" font-size="10" font-weight="normal" font-style="normal" fill="#222" textLength="9.99" lengthAdjust="spacingAndGlyphs">30</text>
<line x1="54.1" y1="793.7" x2="58.3" y2="793.7" stroke="#555" stroke-width="1.3"/>
<line x1="56.1" y1="783.65" x2="58.3" y2="783.65" stroke="#555" stroke-width="1.2"/>
<text x="38.16" y="799" font-size="10" font-weight="normal" font-style="normal" fill="#222" textLength="10.02" lengthAdjust="spacingAndGlyphs">35</text>
<line x1="54.1" y1="773.6" x2="58.3" y2="773.6" stroke="#555" stroke-width="1.3"/>
<line x1="56.1" y1="763.55" x2="58.3" y2="763.55" stroke="#555" stroke-width="1.2"/>
<text x="38.3" y="778.9" font-size="10" font-weight="normal" font-style="normal" fill="#222" textLength="9.85" lengthAdjust="spacingAndGlyphs">40</text>
<line x1="54.1" y1="753.5" x2="58.3" y2="753.5" stroke="#555" stroke-width="1.3"/>
<line x1="56.1" y1="743.45" x2="58.3" y2="743.45" stroke="#555" stroke-width="1.2"/>
<text x="38.3" y="758.8" font-size="10" font-weight="normal" font-style="normal" fill="#222" textLength="9.88" lengthAdjust="spacingAndGlyphs">45</text>
<line x1="54.1" y1="733.4" x2="58.3" y2="733.4" stroke="#555" stroke-width="1.3"/>
<text x="38.14" y="738.7" font-size="10" font-weight="normal" font-style="normal" fill="#222" textLength="10.02" lengthAdjust="spacingAndGlyphs">50</text>
<line x1="135.6" y1="811.9" x2="135.6" y2="863" stroke="#444" stroke-width="1.2"/>
<line x1="135.6" y1="892.8" x2="135.6" y2="904.3" stroke="#444" stroke-width="1.2"/>
<line x1="121.3" y1="812.2" x2="150.5" y2="812.2" stroke="#666" stroke-width="1.3"/>
<line x1="121.3" y1="904.6" x2="150.5" y2="904.6" stroke="#666" stroke-width="1.3"/>
<rect x="83.3" y="863" width="103.2" height="29.8" fill="#00b0f0" stroke="#333" stroke-width="1.1"/>
<line x1="83.3" y1="886.5" x2="186.5" y2="886.5" stroke="#222" stroke-width="1.3"/>
<line x1="253.8" y1="754.2" x2="253.8" y2="790.5" stroke="#444" stroke-width="1.2"/>
<line x1="253.8" y1="867.2" x2="253.8" y2="893.7" stroke="#444" stroke-width="1.2"/>
<line x1="239.5" y1="754.5" x2="268.7" y2="754.5" stroke="#666" stroke-width="1.3"/>
<line x1="239.5" y1="894" x2="268.7" y2="894" stroke="#666" stroke-width="1.3"/>
<rect x="201.4" y="790.5" width="103.2" height="76.7" fill="#0070c0" stroke="#333" stroke-width="1.1"/>
<line x1="201.4" y1="834.3" x2="304.6" y2="834.3" stroke="#222" stroke-width="1.3"/>
<path d="M136,734.6 V724.5 H253.1 V734.6" fill="none" stroke="#888" stroke-width="1.1"/>
<text x="163.88" y="718.2" font-size="13" font-weight="normal" font-style="normal" fill="#3c3c3c" textLength="53.28" lengthAdjust="spacingAndGlyphs">P = 0.704</text>
<text x="98.17" y="928.3" font-size="13" font-weight="normal" font-style="normal" fill="#3c3c3c" textLength="76.36" lengthAdjust="spacingAndGlyphs">Control group</text>
<text x="228.17" y="928.2" font-size="13" font-weight="normal" font-style="normal" fill="#3c3c3c" textLength="50.63" lengthAdjust="spacingAndGlyphs">AF group</text>
<text transform="translate(24.9,889.25) rotate(-90)" font-size="22.76" font-weight="normal" font-style="normal" fill="#2a2a2a" textLength="149.89" lengthAdjust="spacingAndGlyphs">Δ Glucose level</text>
<rect x="358.4" y="684" width="22.3" height="24.5" fill="none" stroke="#777" stroke-width="1" rx="0.8"/>
<text x="363.45" y="701.1" font-size="17.6" font-weight="normal" font-style="normal" fill="#111" textLength="11.82" lengthAdjust="spacingAndGlyphs">D</text>
<text x="367.89" y="725.6" font-size="12.3" font-family="Liberation Mono" font-weight="normal" font-style="normal" fill="#444" textLength="32.39" lengthAdjust="spacingAndGlyphs">mg/dL</text>
<line x1="411.2" y1="730.82" x2="411.2" y2="913.3" stroke="#555" stroke-width="1.3"/>
<line x1="407" y1="913.5" x2="683.7" y2="913.5" stroke="#333" stroke-width="1.6"/>
<line x1="409" y1="903.19" x2="411.2" y2="903.19" stroke="#555" stroke-width="1.2"/>
<text x="395.94" y="918.6" font-size="10" font-weight="normal" font-style="normal" fill="#222" textLength="5.03" lengthAdjust="spacingAndGlyphs">5</text>
<line x1="407" y1="893.08" x2="411.2" y2="893.08" stroke="#555" stroke-width="1.3"/>
<line x1="409" y1="882.97" x2="411.2" y2="882.97" stroke="#555" stroke-width="1.2"/>
<text x="390.6" y="898.38" font-size="10" font-weight="normal" font-style="normal" fill="#222" textLength="10.37" lengthAdjust="spacingAndGlyphs">10</text>
<line x1="407" y1="872.86" x2="411.2" y2="872.86" stroke="#555" stroke-width="1.3"/>
<line x1="409" y1="862.75" x2="411.2" y2="862.75" stroke="#555" stroke-width="1.2"/>
<text x="390.6" y="878.16" font-size="10" font-weight="normal" font-style="normal" fill="#222" textLength="10.4" lengthAdjust="spacingAndGlyphs">15</text>
<line x1="407" y1="852.64" x2="411.2" y2="852.64" stroke="#555" stroke-width="1.3"/>
<line x1="409" y1="842.53" x2="411.2" y2="842.53" stroke="#555" stroke-width="1.2"/>
<text x="390.85" y="857.94" font-size="10" font-weight="normal" font-style="normal" fill="#222" textLength="10.12" lengthAdjust="spacingAndGlyphs">20</text>
<line x1="407" y1="832.42" x2="411.2" y2="832.42" stroke="#555" stroke-width="1.3"/>
<line x1="409" y1="822.31" x2="411.2" y2="822.31" stroke="#555" stroke-width="1.2"/>
<text x="390.84" y="837.72" font-size="10" font-weight="normal" font-style="normal" fill="#222" textLength="10.14" lengthAdjust="spacingAndGlyphs">25</text>
<line x1="407" y1="812.2" x2="411.2" y2="812.2" stroke="#555" stroke-width="1.3"/>
<line x1="409" y1="802.09" x2="411.2" y2="802.09" stroke="#555" stroke-width="1.2"/>
<text x="390.96" y="817.5" font-size="10" font-weight="normal" font-style="normal" fill="#222" textLength="9.99" lengthAdjust="spacingAndGlyphs">30</text>
<line x1="407" y1="791.98" x2="411.2" y2="791.98" stroke="#555" stroke-width="1.3"/>
<line x1="409" y1="781.87" x2="411.2" y2="781.87" stroke="#555" stroke-width="1.2"/>
<text x="390.96" y="797.28" font-size="10" font-weight="normal" font-style="normal" fill="#222" textLength="10.02" lengthAdjust="spacingAndGlyphs">35</text>
<line x1="407" y1="771.76" x2="411.2" y2="771.76" stroke="#555" stroke-width="1.3"/>
<line x1="409" y1="761.65" x2="411.2" y2="761.65" stroke="#555" stroke-width="1.2"/>
<text x="391.1" y="777.06" font-size="10" font-weight="normal" font-style="normal" fill="#222" textLength="9.85" lengthAdjust="spacingAndGlyphs">40</text>
<line x1="407" y1="751.54" x2="411.2" y2="751.54" stroke="#555" stroke-width="1.3"/>
<line x1="409" y1="741.43" x2="411.2" y2="741.43" stroke="#555" stroke-width="1.2"/>
<text x="391.1" y="756.84" font-size="10" font-weight="normal" font-style="normal" fill="#222" textLength="9.88" lengthAdjust="spacingAndGlyphs">45</text>
<line x1="407" y1="731.32" x2="411.2" y2="731.32" stroke="#555" stroke-width="1.3"/>
<text x="390.94" y="736.62" font-size="10" font-weight="normal" font-style="normal" fill="#222" textLength="10.02" lengthAdjust="spacingAndGlyphs">50</text>
<line x1="489" y1="754.1" x2="489" y2="796.8" stroke="#444" stroke-width="1.2"/>
<line x1="489" y1="866.5" x2="489" y2="892.3" stroke="#444" stroke-width="1.2"/>
<line x1="474.7" y1="754.4" x2="503.9" y2="754.4" stroke="#666" stroke-width="1.3"/>
<line x1="474.7" y1="892.6" x2="503.9" y2="892.6" stroke="#666" stroke-width="1.3"/>
<rect x="436.8" y="796.8" width="102.8" height="69.7" fill="#92d050" stroke="#333" stroke-width="1.1"/>
<line x1="436.8" y1="832.7" x2="539.6" y2="832.7" stroke="#222" stroke-width="1.3"/>
<line x1="607.1" y1="750.4" x2="607.1" y2="780.8" stroke="#444" stroke-width="1.2"/>
<line x1="607.1" y1="865.6" x2="607.1" y2="888.6" stroke="#444" stroke-width="1.2"/>
<line x1="592.8" y1="750.7" x2="622" y2="750.7" stroke="#666" stroke-width="1.3"/>
<line x1="592.8" y1="888.9" x2="622" y2="888.9" stroke="#666" stroke-width="1.3"/>
<rect x="555.1" y="780.8" width="103" height="84.8" fill="#367c55" stroke="#333" stroke-width="1.1"/>
<line x1="555.1" y1="828.3" x2="658.1" y2="828.3" stroke="#222" stroke-width="1.3"/>
<path d="M489.2,734.7 V724.9 H606.7 V734.7" fill="none" stroke="#888" stroke-width="1.1"/>
<text x="516.76" y="718.8" font-size="13" font-weight="normal" font-style="normal" fill="#3c3c3c" textLength="53.9" lengthAdjust="spacingAndGlyphs">P = 0.704</text>
<text x="453.38" y="926.5" font-size="13" font-weight="normal" font-style="normal" fill="#3c3c3c" textLength="72.16" lengthAdjust="spacingAndGlyphs">GP response</text>
<text x="481.7" y="940" font-size="13" font-weight="normal" font-style="normal" fill="#3c3c3c" textLength="14.39" lengthAdjust="spacingAndGlyphs">(-)</text>
<text x="570.68" y="926.9" font-size="13" font-weight="normal" font-style="normal" fill="#3c3c3c" textLength="71.96" lengthAdjust="spacingAndGlyphs">GP response</text>
<text x="598.29" y="940" font-size="13" font-weight="normal" font-style="normal" fill="#3c3c3c" textLength="18.29" lengthAdjust="spacingAndGlyphs">(+)</text>
<text transform="translate(378.7,889.25) rotate(-90)" font-size="22.9" font-weight="normal" font-style="normal" fill="#2a2a2a" textLength="149.89" lengthAdjust="spacingAndGlyphs">Δ Glucose level</text>
</svg>
</body></html>
